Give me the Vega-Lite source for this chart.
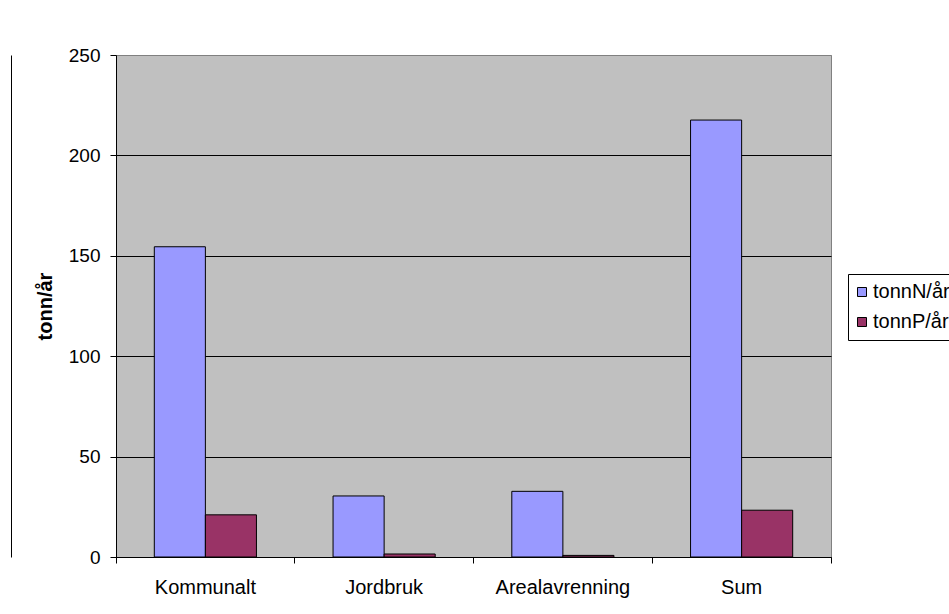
{
  "$schema": "https://vega.github.io/schema/vega-lite/v6.json",
  "width": 715,
  "height": 502,
  "autosize": {"type": "none"},
  "padding": {"left": 116, "top": 55, "right": 118, "bottom": 57},
  "background": "white",
  "config": {
    "font": "Liberation Sans",
    "view": {"fill": "#C0C0C0", "stroke": "#808080", "strokeWidth": 1},
    "axis": {
      "labelFont": "Liberation Sans",
      "labelFontSize": 19,
      "labelColor": "black",
      "titleFont": "Liberation Sans",
      "domainColor": "black",
      "tickColor": "black",
      "tickSize": 6
    }
  },
  "data": {
    "values": [
      {"kategori": "Kommunalt", "serie": "tonnN/år", "verdi": 154.5},
      {"kategori": "Kommunalt", "serie": "tonnP/år", "verdi": 21.0},
      {"kategori": "Jordbruk", "serie": "tonnN/år", "verdi": 30.4},
      {"kategori": "Jordbruk", "serie": "tonnP/år", "verdi": 1.5},
      {"kategori": "Arealavrenning", "serie": "tonnN/år", "verdi": 32.7},
      {"kategori": "Arealavrenning", "serie": "tonnP/år", "verdi": 0.8},
      {"kategori": "Sum", "serie": "tonnN/år", "verdi": 217.6},
      {"kategori": "Sum", "serie": "tonnP/år", "verdi": 23.3}
    ]
  },
  "layer": [
    {
      "mark": {"type": "bar", "stroke": "black", "strokeWidth": 1},
      "encoding": {
        "x": {
          "field": "kategori",
          "type": "nominal",
          "sort": ["Kommunalt", "Jordbruk", "Arealavrenning", "Sum"],
          "scale": {"paddingInner": 0, "paddingOuter": 0},
          "axis": {
            "title": null,
            "labelAngle": 0,
            "labelFontSize": 20,
            "labelPadding": 14,
            "bandPosition": 1,
            "tickExtra": true,
            "grid": false,
            "labelBaseline": "top"
          }
        },
        "xOffset": {
          "field": "serie",
          "type": "nominal",
          "scale": {"paddingInner": 0, "paddingOuter": 0.75}
        },
        "y": {
          "field": "verdi",
          "type": "quantitative",
          "scale": {"domain": [0, 250], "nice": false},
          "axis": {
            "title": "tonn/år",
            "titleFontSize": 20,
            "titleFontWeight": "bold",
            "titleColor": "black",
            "titleX": -71,
            "titleY": 251,
            "titleAngle": -90,
            "titleBaseline": "middle",
            "values": [0, 50, 100, 150, 200, 250],
            "labelPadding": 10,
            "grid": true,
            "gridColor": {"condition": {"test": "datum.value == 250", "value": "#808080"}, "value": "black"},
            "gridWidth": 1,
            "gridOpacity": 1
          }
        },
        "color": {
          "field": "serie",
          "type": "nominal",
          "scale": {"domain": ["tonnN/år", "tonnP/år"], "range": ["#9999FF", "#993366"]},
          "legend": {
            "title": null,
            "orient": "none",
            "legendX": 732,
            "legendY": 219,
            "fillColor": "white",
            "strokeColor": "black",
            "padding": 8,
            "symbolType": "square",
            "symbolSize": 81,
            "symbolOffset": -4,
            "symbolStrokeColor": "black",
            "symbolStrokeWidth": 1,
            "symbolOpacity": 1,
            "labelFont": "Liberation Sans",
            "labelFontSize": 20,
            "labelColor": "black",
            "labelOffset": 1,
            "rowPadding": 10,
            "labelLimit": 0
          }
        }
      }
    },
    {
      "mark": {"type": "bar", "opacity": 0},
      "encoding": {
        "x": {
          "field": "kategori",
          "type": "nominal",
          "sort": ["Kommunalt", "Jordbruk", "Arealavrenning", "Sum"]
        },
        "y": {
          "field": "verdi",
          "type": "quantitative",
          "scale": {"domain": [0, 250], "nice": false},
          "axis": {
            "orient": "left",
            "offset": 105,
            "title": null,
            "labels": false,
            "ticks": false,
            "grid": false,
            "domain": true,
            "domainColor": "black"
          }
        }
      }
    }
  ],
  "resolve": {"scale": {"y": "independent"}, "axis": {"y": "independent"}}
}
